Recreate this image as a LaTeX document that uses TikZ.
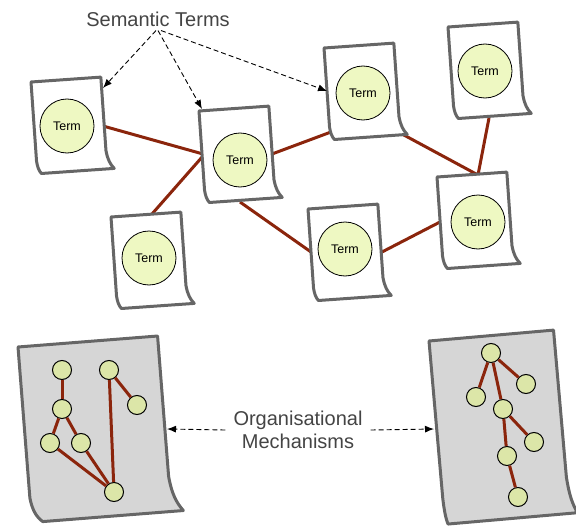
\documentclass[tikz,border=0pt]{standalone}
\usepackage{fontspec}
\setmainfont{Liberation Sans}
\usetikzlibrary{arrows.meta}
\definecolor{docline}{RGB}{102,102,102}
\definecolor{linkred}{RGB}{139,37,12}
\definecolor{termfill}{RGB}{238,248,194}
\definecolor{knotfill}{RGB}{220,230,168}
\definecolor{sheetgray}{RGB}{214,214,214}
\definecolor{labelgray}{RGB}{68,68,68}
% #1 fill, #2 x, #3 y, #4 rotation, #5 width, #6 height, #7 bottom-left shift, #8 curl
\newcommand\docsheet[8]{%
  \begin{scope}[shift={(#2,#3)},rotate=#4]
    \draw[sheet,fill=#1] (0,0) -- (#5,0) -- (#5,{0.8*#6})
      .. controls ({#5+0.15*#8},{0.9*#6}) and ({#5+0.45*#8},{0.95*#6}) .. ({#5+#8},#6)
      -- (#7,#6)
      .. controls ({0.4*#7},{0.97*#6}) and ({0.1*#7},{0.92*#6}) .. (0,{0.86*#6}) -- cycle;
  \end{scope}}
\begin{document}
\begin{tikzpicture}[x=1pt,y=-1pt,
  sheet/.style={draw=docline,line width=3pt,line join=round},
  term/.style={circle,draw=black,line width=0.8pt,fill=termfill,minimum size=54pt,inner sep=0pt,font=\fontsize{12.5}{14}\selectfont},
  knot/.style={circle,draw=black,line width=1pt,fill=knotfill,minimum size=19pt,inner sep=0pt},
  link/.style={draw=linkred,line width=3pt},
  pointer/.style={draw=black,line width=0.9pt,dash pattern=on 5pt off 3pt,-{Latex[length=9pt,width=7pt]}},
  caption/.style={text=labelgray,font=\fontsize{20}{23.5}\selectfont,align=center}]
\useasboundingbox (0,0) rectangle (576,527);

% connector end points on the sheets
\coordinate (d1r) at (103,126);
\coordinate (d2l) at (203,154);
\coordinate (d2lb) at (203,156);
\coordinate (d5t) at (152,214);
\coordinate (d2r) at (272,154);
\coordinate (d3l) at (331,132);
\coordinate (d3c) at (402,134);
\coordinate (d7t) at (478,175);
\coordinate (d4b) at (489,118);
\coordinate (d2b) at (240,202);
\coordinate (d6l) at (311,252);
\coordinate (d6r) at (382,252);
\coordinate (d7l) at (440,222);

\draw[link] (d1r) -- (d2l);
\draw[link] (d2lb) -- (d5t);
\draw[link] (d2r) -- (d3l);
\draw[link] (d3c) -- (d7t);
\draw[link] (d4b) -- (d7t);
\draw[link] (d2b) -- (d6l);
\draw[link] (d6r) -- (d7l);

% small sheets
\docsheet{white}{31}{82}{4}{70}{92}{4}{7}
\docsheet{white}{199}{111}{4}{70}{92}{4}{7}
\docsheet{white}{324}{48}{4}{70}{92}{4}{7}
\docsheet{white}{448}{27}{4}{70}{92}{4}{7}
\docsheet{white}{111}{217}{4}{70}{92}{4}{7}
\docsheet{white}{308}{209}{4}{70}{92}{4}{7}
\docsheet{white}{437}{177}{4}{70}{92}{4}{7}

\node[term] (t1) at (67,126) {Term};
\node[term] (t2) at (240,160) {Term};
\node[term] (t3) at (363,93) {Term};
\node[term] (t4) at (485,71) {Term};
\node[term] (t5) at (149,258) {Term};
\node[term] (t6) at (345,249) {Term};
\node[term] (t7) at (478,222) {Term};

% big sheets
\docsheet{sheetgray}{18}{347}{4.5}{140}{176}{11}{12}
\docsheet{sheetgray}{429}{341}{5}{125}{184}{3}{8}

\node[knot] (n1) at (62,370) {};
\node[knot] (n2) at (62,409) {};
\node[knot] (n3) at (50,443) {};
\node[knot] (n4) at (81,443) {};
\node[knot] (n5) at (114,492) {};
\node[knot] (n6) at (109,370) {};
\node[knot] (n7) at (137,405) {};
\draw[link] (n1) -- (n2);
\draw[link] (n2) -- (n3);
\draw[link] (n2) -- (n4);
\draw[link] (n3) -- (n5);
\draw[link] (n4) -- (n5);
\draw[link] (n6) -- (n5);
\draw[link] (n6) -- (n7);

\node[knot] (m1) at (491,353) {};
\node[knot] (m2) at (526,384) {};
\node[knot] (m3) at (476,397) {};
\node[knot] (m4) at (503,409) {};
\node[knot] (m5) at (534,442) {};
\node[knot] (m6) at (507,456) {};
\node[knot] (m7) at (518,497) {};
\draw[link] (m1) -- (m2);
\draw[link] (m1) -- (m3);
\draw[link] (m1) -- (m4);
\draw[link] (m4) -- (m5);
\draw[link] (m4) -- (m6);
\draw[link] (m6) -- (m7);

% labels and pointers
\node[caption,inner sep=4pt] (st) at (158,19) {Semantic Terms};
\coordinate (p1) at (103,88);
\coordinate (p2) at (202,109);
\coordinate (p3) at (327,91);
\draw[pointer] ([xshift=-2pt]st.south) -- (p1);
\draw[pointer] (st.south) -- (p2);
\draw[pointer] ([xshift=3pt]st.south) -- (p3);

\node[caption,inner sep=8pt] (om) at (298,430) {Organisational\\Mechanisms};
\coordinate (bl) at (167,429);
\coordinate (br) at (434,429);
\draw[pointer] (om.west) -- (bl);
\draw[pointer] (om.east) -- (br);
\end{tikzpicture}
\end{document}
